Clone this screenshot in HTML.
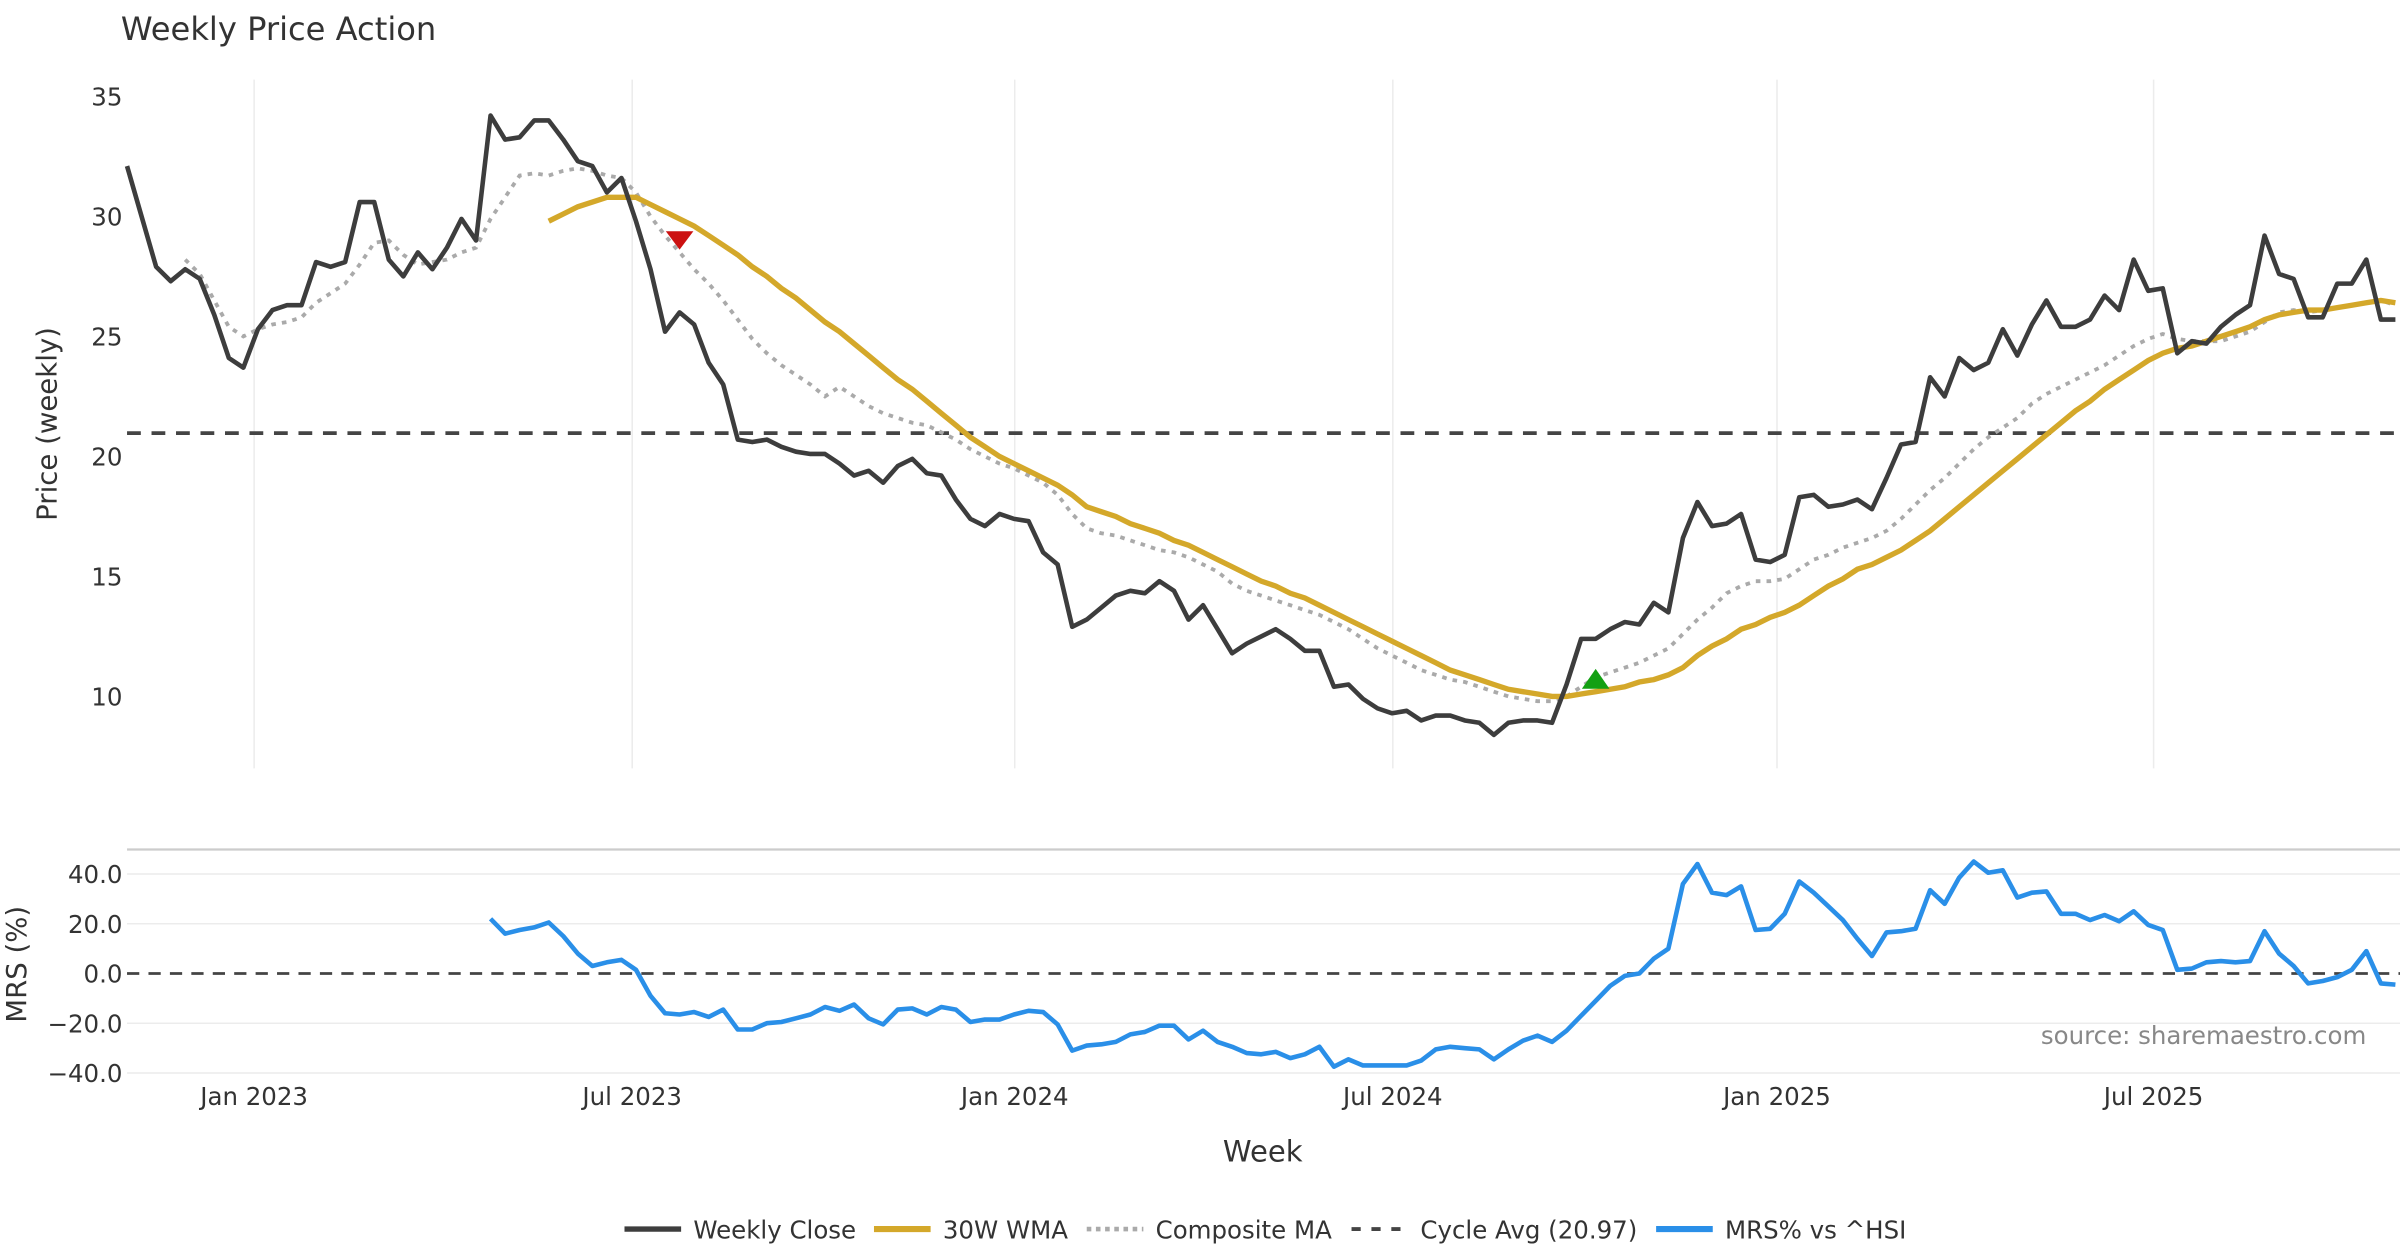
<!DOCTYPE html>
<html><head><meta charset="utf-8"><style>
html,body{margin:0;padding:0;background:#fff}
svg{display:block;font-family:"DejaVu Sans","Liberation Sans",sans-serif}
</style></head><body>
<svg id="chart" width="2400" height="1260" viewBox="0 0 1568 823.2" xmlns="http://www.w3.org/2000/svg">
<text x="79" y="26" font-size="21" fill="#333">Weekly Price Action</text>
<g id="topPanel"></g><g id="botPanel"></g><g id="legendPanel"></g>
</svg>
<script>
const closeVals=[32.1,30,27.9,27.3,27.8,27.4,25.9,24.1,23.7,25.3,
26.1,26.3,26.3,28.1,27.9,28.1,30.6,30.6,28.2,27.5,
28.5,27.8,28.7,29.9,29,34.2,33.2,33.3,34,34,
33.2,32.3,32.1,31,31.6,29.8,27.8,25.2,26,25.5,
23.9,23,20.7,20.6,20.7,20.4,20.2,20.1,20.1,19.7,
19.2,19.4,18.9,19.6,19.9,19.3,19.2,18.2,17.4,17.1,
17.6,17.4,17.3,16,15.5,12.9,13.2,13.7,14.2,14.4,
14.3,14.8,14.4,13.2,13.8,12.8,11.8,12.2,12.5,12.8,
12.4,11.9,11.9,10.4,10.5,9.9,9.5,9.3,9.4,9.0,
9.2,9.2,9.0,8.9,8.4,8.9,9.0,9.0,8.9,10.5,
12.4,12.4,12.8,13.1,13.0,13.9,13.5,16.6,18.1,17.1,
17.2,17.6,15.7,15.6,15.9,18.3,18.4,17.9,18.0,18.2,
17.8,19.1,20.5,20.6,23.3,22.5,24.1,23.6,23.9,25.3,
24.2,25.5,26.5,25.4,25.4,25.7,26.7,26.1,28.2,26.9,
27.0,24.3,24.8,24.7,25.4,25.9,26.3,29.2,27.6,27.4,
25.8,25.8,27.2,27.2,28.2,25.7,25.7];
const wmaStart=29;
const wmaVals=[29.8,30.1,30.4,30.6,30.8,30.8,30.8,30.5,30.2,29.9,29.6,29.2,28.8,
28.4,27.9,27.5,27.0,26.6,26.1,25.6,25.2,24.7,24.2,23.7,23.2,22.8,22.3,21.8,21.3,20.8,20.4,20.0,19.7,19.4,19.1,18.8,18.4,17.9,17.7,17.5,17.2,17.0,16.8,16.5,16.3,16.0,15.7,15.4,15.1,14.8,14.6,14.3,14.1,13.8,13.5,13.2,12.9,12.6,12.3,12.0,11.7,11.4,11.1,10.9,10.7,10.5,10.3,10.2,10.1,10.0,10.0,10.1,10.2,10.3,10.4,10.6,10.7,10.9,11.2,11.7,12.1,12.4,12.8,13.0,13.3,13.5,13.8,14.2,14.6,14.9,15.3,15.5,15.8,16.1,16.5,16.9,17.4,17.9,18.4,18.9,19.4,19.9,20.4,20.9,21.4,21.9,22.3,22.8,23.2,23.6,24.0,24.3,24.5,24.6,24.8,25.0,25.2,25.4,25.7,25.9,26.0,26.1,26.1,26.2,26.3,26.4,26.5,26.4];
const compStart=4;
const compVals=[28.2,27.6,26.5,25.4,25.0,25.3,25.5,25.6,25.8,26.4,26.8,27.2,28.0,28.9,29.0,28.4,28.0,28.1,28.2,28.5,28.7,29.9,30.8,31.7,31.8,31.7,31.9,32.0,31.9,31.7,31.6,31.0,30.0,29.2,28.5,
27.8,27.2,26.5,25.7,24.9,24.3,23.8,23.4,23.0,22.5,22.9,22.5,22.1,21.8,21.6,21.4,21.3,21.0,20.7,20.3,20.0,19.7,19.5,19.2,18.9,18.4,17.6,17.0,16.8,16.7,16.5,16.3,16.1,16.0,15.8,15.5,15.2,14.7,14.4,14.2,14.0,13.8,13.6,13.4,13.1,12.8,12.4,12.0,11.7,11.4,11.1,10.9,10.7,10.6,10.4,10.2,10.0,9.9,9.8,9.8,10.0,10.4,10.8,11.0,11.2,11.4,11.7,12.0,12.6,13.2,13.7,14.3,14.6,14.8,14.8,14.9,15.3,15.7,15.9,16.2,16.4,16.6,16.9,17.4,18.0,18.6,19.1,19.7,20.3,20.8,21.2,21.6,22.2,22.6,22.9,23.2,23.5,23.8,24.2,24.6,24.9,25.1,24.9,24.8,24.8,24.8,25.0,25.2,25.6,26.0,26.1,26.0,26.1,26.2,26.3,26.4,26.5,26.3];
const mrsStart=25;
const mrsVals=[22,16,17.5,18.5,20.5,15,8,3,4.5,5.5,1.5,
-9,-16,-16.5,-15.5,-17.5,-14.5,-22.5,-22.5,-20,-19.5,-18,
-16.5,-13.5,-15,-12.5,-18,-20.5,-14.5,-14,-16.5,-13.5,-14.5,
-19.5,-18.5,-18.5,-16.5,-15,-15.5,-20.5,-31,-29,-28.5,-27.5,
-24.5,-23.5,-21,-21,-26.5,-23,-27.5,-29.5,-32,-32.5,-31.5,
-34,-32.5,-29.5,-37.5,-34.5,-37,-37,-37,-37,-35,-30.5,
-29.5,-30,-30.5,-34.5,-30.5,-27,-25,-27.5,-23,-17,-11,
-5,-1,0,6,10,36,44,32.5,31.5,35,17.5,
18,24,37,32.5,27,21.5,14,7,16.5,17,18,
33.5,28,38.5,45,40.5,41.5,30.5,32.5,33,24,24,
21.5,23.5,21,25,19.5,17.5,1.5,2,4.5,5,4.5,
5,17,8,3,-4,-3,-1.5,1.5,9,-4,-4.5];
const cycleAvg=20.97;
const sellSignal={i:38,v:29.0};
const buySignal={i:101,v:10.7};
const priceTicks=[10,15,20,25,30,35];
const mrsTicks=[-40,-20,0,20,40];
const xTickLabels=["Jan 2023","Jul 2023","Jan 2024","Jul 2024","Jan 2025","Jul 2025"];
const xTickIdx=[8.74,34.74,61.05,87.05,113.47,139.37];

const NS="http://www.w3.org/2000/svg";
const X=i=>83+i*9.5;
const YP=v=>455-(v-10)*15.68;
const YM=v=>636-v*1.625;
function mk(tag,attrs,parent,txt){const e=document.createElementNS(NS,tag);for(const k in attrs)e.setAttribute(k,attrs[k]);if(txt!==undefined)e.textContent=txt;parent.appendChild(e);return e;}
const gTop=document.getElementById('topPanel'),gBot=document.getElementById('botPanel'),gLeg=document.getElementById('legendPanel');

xTickIdx.forEach((t,k)=>{
 const g=mk('line',{x1:X(t),x2:X(t),y1:52,y2:502,stroke:'#ececec','stroke-width':1},gTop);
 
 
 const lb=mk('text',{x:X(t),y:722,'font-size':16,fill:'#333','text-anchor':'middle'},gBot,xTickLabels[k]);
 
 
});
priceTicks.forEach(v=>{
 const t=mk('text',{x:80,y:YP(v)+6,'font-size':16,fill:'#333','text-anchor':'end'},gTop,String(v));
 
 
});
const yt=mk('text',{x:0,y:0,'font-size':18,fill:'#333','text-anchor':'middle',transform:'translate(37,277) rotate(-90)'},gTop,'Price (weekly)');



const cyc=mk('line',{x1:83,x2:1568,y1:YP(cycleAvg),y2:YP(cycleAvg),stroke:'#444','stroke-width':2.5,'stroke-dasharray':'9,7'},gTop);


function pts(arr,start,Y){return arr.map((v,j)=>X(start+j).toFixed(1)+','+Y(v).toFixed(1)).join(' ');}
const comp=mk('polyline',{points:pts(compVals,compStart,YP),fill:'none',stroke:'#aaa','stroke-width':2.5,'stroke-dasharray':'3,4'},gTop);


const wma=mk('polyline',{points:pts(wmaVals,wmaStart,YP),fill:'none',stroke:'#d4a82a','stroke-width':3.5},gTop);


const cl=mk('polyline',{points:pts(closeVals,0,YP),fill:'none',stroke:'#3d3d3d','stroke-width':3,'stroke-linejoin':'round'},gTop);


const sx=X(sellSignal.i),sy=YP(sellSignal.v);
const sm=mk('polygon',{points:`${sx-9},${sy-6} ${sx+9},${sy-6} ${sx},${sy+6}`,fill:'#cc1111'},gTop);


const bx=X(buySignal.i),by=YP(buySignal.v);
const bm=mk('polygon',{points:`${bx-9},${by+6} ${bx+9},${by+6} ${bx},${by-7}`,fill:'#13a013'},gTop);



const bl=mk('line',{x1:83,x2:1568,y1:555,y2:555,stroke:'#ccc','stroke-width':1.5},gBot);


mrsTicks.forEach(v=>{
 if(v!==0){const g=mk('line',{x1:83,x2:1568,y1:YM(v),y2:YM(v),stroke:'#ececec','stroke-width':1},gBot);
 
 }
 const t=mk('text',{x:80,y:YM(v)+6,'font-size':16,fill:'#333','text-anchor':'end'},gBot,(v<0?'\u2212'+Math.abs(v):String(v))+'.0');
 
 
});
const zl=mk('line',{x1:83,x2:1568,y1:YM(0),y2:YM(0),stroke:'#444','stroke-width':1.8,'stroke-dasharray':'8,6'},gBot);


const mr=mk('polyline',{points:pts(mrsVals,mrsStart,YM),fill:'none',stroke:'#2a8fe8','stroke-width':3,'stroke-linejoin':'round'},gBot);


const mt=mk('text',{x:0,y:0,'font-size':18,fill:'#333','text-anchor':'middle',transform:'translate(17,630) rotate(-90)'},gBot,'MRS (%)');


const src=mk('text',{x:1546,y:682,'font-size':16,fill:'#888','text-anchor':'end'},gBot,'source: sharemaestro.com');


const wk=mk('text',{x:825,y:759,'font-size':19,fill:'#333','text-anchor':'middle'},gBot,'Week');



const items=[{x:408,l:'Weekly Close',c:'#3d3d3d',d:'',w:3.5},{x:571,l:'30W WMA',c:'#d4a82a',d:'',w:4},{x:710,l:'Composite MA',c:'#aaa',d:'3,3',w:3},{x:883,l:'Cycle Avg (20.97)',c:'#444',d:'6,7',w:2.5},{x:1082,l:'MRS% vs ^HSI',c:'#2a8fe8',d:'',w:4}];
items.forEach(it=>{
 const g=mk('g',{},gLeg);
 
 
 mk('line',{x1:it.x,x2:it.x+37,y1:803,y2:803,stroke:it.c,'stroke-width':it.w,'stroke-dasharray':it.d},g);
 mk('text',{x:it.x+45,y:809,'font-size':16,fill:'#333'},g,it.l);
});
</script>
</body></html>
